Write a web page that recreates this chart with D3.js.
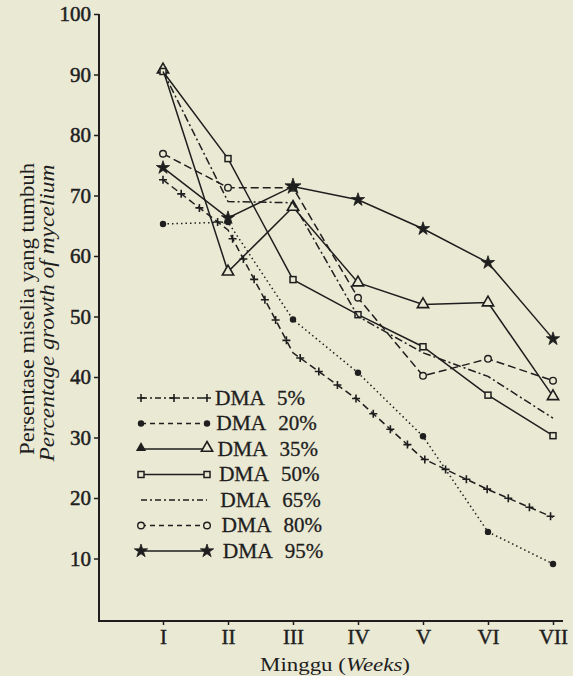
<!DOCTYPE html>
<html>
<head>
<meta charset="utf-8">
<script src="https://cdn.jsdelivr.net/npm/d3@7"></script>
<style>
  body { margin: 0; background: #eae9d4; }
  svg { display: block; }
  text { font-family: "Liberation Serif", "DejaVu Serif", serif; fill: #1e1e1e; }
</style>
</head>
<body>
<div id="chart"></div>
<script>
// weeks and readings (percent of mycelium growth)
const weeks = ["I", "II", "III", "IV", "V", "VI", "VII"];
const dma5  = [72.6, 64.3, 44.0, 36.2, 26.5, 21.4, 16.8];
const dma20 = [65.3, 65.6, 49.5, 40.7, 30.2, 14.4, 9.1];
const dma35 = [90.8, 57.4, 68.1, 55.6, 52.0, 52.3, 36.8];
const dma50 = [90.5, 76.1, 56.1, 50.3, 45.0, 37.0, 30.3];
const dma65 = [90.5, 69.0, 68.8, 50.0, 44.0, 40.1, 33.2];
const dma80 = [76.9, 71.3, 71.3, 53.1, 40.2, 43.0, 39.4];
const dma95 = [74.6, 66.3, 71.5, 69.3, 64.5, 58.9, 46.3];
const doses = ["5%", "20%", "35%", "50%", "65%", "80%", "95%"];
const yTicks = [10, 20, 30, 40, 50, 60, 70, 80, 90, 100];

const W = 573, H = 676;
const ink = "#1e1e1e", paper = "#eae9d4";

const svg = d3.select("#chart").append("svg")
    .attr("width", W).attr("height", H);

const x = d3.scalePoint().domain(weeks).range([163, 553]);
const y = d3.scaleLinear().domain([0, 100]).range([619, 14]);

// styles per series
const styles = [
    { values: dma5,  dash: "7,4",     legendDash: "6,3,2,3", marker: "plus" },
    { values: dma20, dash: "1.5,3",   legendDash: "5,4",     marker: "dot" },
    { values: dma35, dash: null,      legendDash: null,      marker: "tri" },
    { values: dma50, dash: null,      legendDash: null,      marker: "square" },
    { values: dma65, dash: "8,3,2,3", legendDash: "6,3,2,3", marker: null },
    { values: dma80, dash: "8,4",     legendDash: "5,4",     marker: "circle" },
    { values: dma95, dash: null,      legendDash: null,      marker: "star" }
];

function drawMarker(g, type, px, py, big) {
    if (type === "plus") {
        g.append("path").attr("d", `M${px-4},${py}h8M${px},${py-4}v8`)
            .attr("stroke", ink).attr("stroke-width", 1.6);
    } else if (type === "dot") {
        g.append("circle").attr("cx", px).attr("cy", py).attr("r", 3.2).attr("fill", ink);
    } else if (type === "tri") {
        g.append("path").attr("transform", `translate(${px},${py})`)
            .attr("d", d3.symbol(d3.symbolTriangle, 55)())
            .attr("fill", paper).attr("stroke", ink).attr("stroke-width", 1.6);
    } else if (type === "square") {
        g.append("rect").attr("x", px - 3).attr("y", py - 3).attr("width", 6).attr("height", 6)
            .attr("fill", paper).attr("stroke", ink).attr("stroke-width", 1.5);
    } else if (type === "circle") {
        g.append("circle").attr("cx", px).attr("cy", py).attr("r", 3.3)
            .attr("fill", paper).attr("stroke", ink).attr("stroke-width", 1.4);
    } else if (type === "star") {
        g.append("path").attr("transform", `translate(${px},${py})`)
            .attr("d", d3.symbol(d3.symbolStar, big ? 80 : 55)())
            .attr("fill", ink).attr("stroke", ink).attr("stroke-width", 0.8);
    }
}

// axes
const yAxis = d3.axisLeft(y).tickValues(yTicks).tickSize(5).tickSizeOuter(0).tickPadding(3);
const gy = svg.append("g").attr("transform", "translate(99,0)").call(yAxis);
gy.select(".domain").remove();
gy.selectAll("line").attr("stroke", ink).attr("stroke-width", 1.5);
gy.selectAll("text").style("font-size", "21px").attr("fill", ink)
    .attr("stroke", ink).attr("stroke-width", 0.5);
svg.append("line").attr("x1", 99).attr("x2", 99).attr("y1", y(100)).attr("y2", 622)
    .attr("stroke", ink).attr("stroke-width", 2);

const xAxis = d3.axisBottom(x).tickSize(4).tickSizeOuter(0).tickPadding(4);
const gx = svg.append("g").attr("transform", "translate(0,621)").call(xAxis);
gx.select(".domain").remove();
gx.selectAll("line").attr("stroke", ink).attr("stroke-width", 1.5);
gx.selectAll("text").style("font-size", "21px").attr("fill", ink)
    .attr("stroke", ink).attr("stroke-width", 0.4);
svg.append("line").attr("x1", 98).attr("x2", 563).attr("y1", 621).attr("y2", 621)
    .attr("stroke", ink).attr("stroke-width", 2);

// axis titles
svg.append("text").attr("x", 260).attr("y", 671)
    .attr("textLength", 150).attr("lengthAdjust", "spacingAndGlyphs")
    .style("font-size", "19px")
    .html('Minggu (<tspan font-style="italic">Weeks</tspan>)');
svg.append("text").attr("transform", "translate(34,309) rotate(-90)")
    .attr("text-anchor", "middle").style("font-size", "20px")
    .attr("textLength", 292).attr("lengthAdjust", "spacingAndGlyphs")
    .text("Persentase miselia yang tumbuh");
svg.append("text").attr("transform", "translate(54,313) rotate(-90)")
    .attr("text-anchor", "middle").style("font-size", "20px").style("font-style", "italic")
    .attr("textLength", 297).attr("lengthAdjust", "spacingAndGlyphs")
    .text("Percentage growth of mycelium");

// series lines
const line = d3.line().x((d, i) => x(weeks[i])).y(d => y(d));
const plot = svg.append("g");
styles.forEach((s) => {
    const p = plot.append("path").datum(s.values)
        .attr("d", line)
        .attr("fill", "none").attr("stroke", ink).attr("stroke-width", 1.5)
        .attr("stroke-dasharray", s.dash);
    const g = plot.append("g");
    if (s.marker === "plus") {
        // plus signs repeated along the line
        const node = p.node(), len = node.getTotalLength();
        for (let l = 0; l <= len; l += 23) {
            const pt = node.getPointAtLength(l);
            drawMarker(g, "plus", pt.x, pt.y);
        }
    } else if (s.marker) {
        s.values.forEach((v, i) => drawMarker(g, s.marker, x(weeks[i]), y(v), i === 2));
    }
});

// legend
const legend = svg.append("g");
doses.forEach((dose, k) => {
    const s = styles[k];
    const cy = 398 + k * 25.5;
    const x0 = 141, x1 = 207;
    legend.append("line").attr("x1", x0).attr("x2", x1).attr("y1", cy).attr("y2", cy)
        .attr("stroke", ink).attr("stroke-width", 1.5).attr("stroke-dasharray", s.legendDash);
    if (s.marker === "plus") {
        drawMarker(legend, "plus", x0, cy);
        drawMarker(legend, "plus", (x0 + x1) / 2, cy);
        drawMarker(legend, "plus", x1, cy);
    } else if (s.marker === "tri") {
        legend.append("path").attr("transform", `translate(${x0},${cy - 1})`)
            .attr("d", d3.symbol(d3.symbolTriangle, 45)()).attr("fill", ink);
        drawMarker(legend, "tri", x1, cy - 1);
    } else if (s.marker) {
        drawMarker(legend, s.marker, x0, cy);
        drawMarker(legend, s.marker, x1, cy);
    }
    const tx = 215 + k * 1.3;
    legend.append("text").attr("x", tx).attr("y", cy + 6.5)
        .attr("textLength", 50).attr("lengthAdjust", "spacingAndGlyphs")
        .style("font-size", "21px").attr("stroke", ink).attr("stroke-width", 0.3)
        .text("DMA");
    legend.append("text").attr("x", tx + 62).attr("y", cy + 6.5)
        .style("font-size", "21px").attr("stroke", ink).attr("stroke-width", 0.3)
        .text(dose);
});
</script>
</body>
</html>
